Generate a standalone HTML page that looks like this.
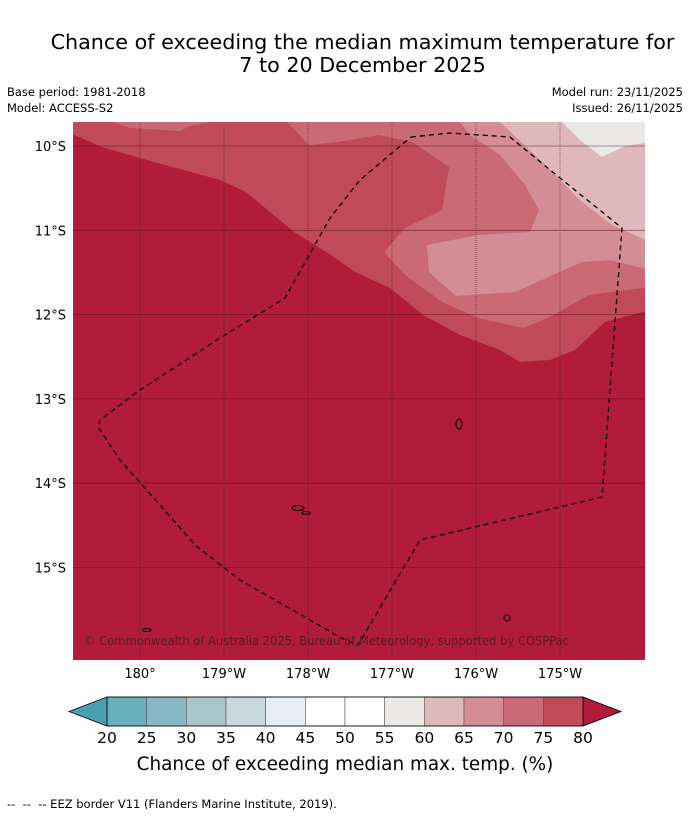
<!DOCTYPE html>
<html><head><meta charset="utf-8"><style>
html,body{margin:0;padding:0;background:#fff;}
body{width:690px;height:816px;position:relative;overflow:hidden;font-family:"DejaVu Sans","Liberation Sans",sans-serif;}
.t{position:absolute;white-space:nowrap;color:#000;}
</style></head><body>
<div class="t" style="left:0;width:725px;top:31px;text-align:center;font-size:20.7px;line-height:23px;">Chance of exceeding the median maximum temperature for<br>7 to 20 December 2025</div>
<div class="t" style="left:7px;top:85px;font-size:11.5px;">Base period: 1981-2018</div>
<div class="t" style="left:7px;top:101px;font-size:11.5px;">Model: ACCESS-S2</div>
<div class="t" style="right:7px;top:85px;font-size:11.5px;">Model run: 23/11/2025</div>
<div class="t" style="right:7px;top:101px;font-size:11.5px;">Issued: 26/11/2025</div>
<svg id="chart" width="690" height="816" style="position:absolute;left:0;top:0" font-family="DejaVu Sans, Liberation Sans, sans-serif"></svg>
<div class="t" style="left:7px;top:797px;font-size:11.5px;">--&nbsp; --&nbsp; -- EEZ border V11 (Flanders Marine Institute, 2019).</div>
<script>
const lonTicks=[180,179,178,177,176,175];
const lonLabels=["180°","179°W","178°W","177°W","176°W","175°W"];
const latTicks=[10,11,12,13,14,15];
const latLabels=["10°S","11°S","12°S","13°S","14°S","15°S"];
const levels=[20,25,30,35,40,45,50,55,60,65,70,75,80];
const levelColors=["#6aafbd","#88b8c3","#a8c6cb","#c8d8dc","#e8eef1","#ffffff","#ffffff","#ebe9e8","#e0b8bc","#d48d94","#c96a74","#c04a58"];
const underColor="#4aa0b3", overColor="#b01c39";
const NS="http://www.w3.org/2000/svg";
const svg=document.getElementById('chart');
const X0=73,X1=645,Y0=122,Y1=660;
const xLon=l=>140+(180-l)*84;
const yLat=l=>146+(l-10)*84.3;
function mk(t,a,p){const e=document.createElementNS(NS,t);for(const k in a)e.setAttribute(k,a[k]);(p||svg).appendChild(e);return e;}
const defs=mk('defs',{});const cp=mk('clipPath',{id:'mc'},defs);mk('rect',{x:X0,y:Y0,width:X1-X0,height:Y1-Y0},cp);
const g=mk('g',{'clip-path':'url(#mc)'});


const P=s=>s.map(p=>p.join(',')).join(' ');
const bg=mk('rect',{x:X0,y:Y0,width:X1-X0,height:Y1-Y0,fill:levelColors[11]},g);


const regions=[
 {n:'contour-70-75-west',c:10,p:[[113,122],[130,128],[180,131],[190,126],[210,122]]},
 {n:'contour-70-75',c:10,p:[[287,122],[309,145],[338,142],[379,135],[412,142],[449,167],[442,210],[405,228],[384,252],[405,275],[442,302],[478,318],[523,328],[548,318],[589,295],[650,287],[650,120]]},
 {n:'contour-65-70',c:9,p:[[458,120],[470,135],[500,155],[525,185],[539,210],[530,232],[478,235],[427,245],[429,272],[456,296],[515,292],[582,262],[610,260],[650,270],[650,120]]},
 {n:'contour-60-65',c:8,p:[[498,120],[540,160],[580,200],[612,225],[650,242],[650,120]]},
 {n:'contour-55-60',c:7,p:[[560,120],[580,140],[602,157],[625,146],[650,142],[650,120]]},
 {n:'contour-above-80',c:-1,p:[[70,133],[102,147],[154,162],[220,180],[246,192],[294,232],[331,255],[355,272],[390,288],[423,315],[460,335],[500,350],[520,362],[550,360],[575,350],[605,322],[650,310],[650,665],[70,665]]}
];
regions.forEach(r=>{const e=mk('polygon',{points:P(r.p),fill:r.c<0?overColor:levelColors[r.c]},g);

});
lonTicks.forEach((l,i)=>{const e=mk('line',{x1:xLon(l),x2:xLon(l),y1:Y0,y2:Y1,stroke:'#5a1020','stroke-width':0.8,'stroke-dasharray':'1,1','opacity':0.7},g);


const t=mk('text',{x:xLon(l),y:678,'font-size':13,'text-anchor':'middle'});t.textContent=lonLabels[i];

});
latTicks.forEach((l,i)=>{const e=mk('line',{x1:X0,x2:X1,y1:yLat(l),y2:yLat(l),stroke:'#5a1020','stroke-width':0.8,'opacity':0.6},g);


const t=mk('text',{x:66,y:yLat(l)+5,'font-size':13,'text-anchor':'end'});t.textContent=latLabels[i];

});
const eez=[[411,137],[450,133],[510,137],[560,178],[622,228],[602,497],[420,540],[358,645],[345,640],[310,620],[240,580],[195,545],[160,505],[120,460],[98,427],[100,420],[140,390],[220,338],[285,298],[330,218],[360,180],[411,137]];
const ez=mk('polyline',{points:P(eez),fill:'none',stroke:'#000','stroke-width':1.3,'stroke-dasharray':'5,4'},g);


[[459,424,3,5],[298,508,6,2.5],[507,618,3,3],[147,630,4,1.5],[306,513,4,1.5]].forEach(a=>{const e=mk('ellipse',{cx:a[0],cy:a[1],rx:a[2],ry:a[3],fill:'none',stroke:'#000','stroke-width':1},g);

});
const cr=mk('text',{x:84,y:645,'font-size':12,fill:'#5a1a22',textLength:485,lengthAdjust:'spacingAndGlyphs'},g);cr.textContent='© Commonwealth of Australia 2025, Bureau of Meteorology, supported by COSPPac';


const CB0=107,CB1=583,CY=697,CH=29;
const cx=v=>CB0+(v-levels[0])/(levels[levels.length-1]-levels[0])*(CB1-CB0);
const cbg=mk('g',{});


const ul=mk('polygon',{points:P([[CB0,CY],[69,CY+CH/2],[CB0,CY+CH]]),fill:underColor,stroke:'#000','stroke-width':0.8},cbg);


const ol=mk('polygon',{points:P([[CB1,CY],[621,CY+CH/2],[CB1,CY+CH]]),fill:overColor,stroke:'#000','stroke-width':0.8},cbg);


for(let i=0;i<levels.length-1;i++){const e=mk('rect',{x:cx(levels[i]),y:CY,width:cx(levels[i+1])-cx(levels[i]),height:CH,fill:levelColors[i],stroke:'#555','stroke-width':0.6},cbg);

}
mk('rect',{x:CB0,y:CY,width:CB1-CB0,height:CH,fill:'none',stroke:'#000','stroke-width':0.8},cbg);
levels.forEach(v=>{const t=mk('text',{x:cx(v),y:743,'font-size':15.5,'text-anchor':'middle'},cbg);t.textContent=v;

});
const ct=mk('text',{x:345,y:770,'font-size':18.4,'text-anchor':'middle'});ct.textContent='Chance of exceeding median max. temp. (%)';


</script>
</body></html>
